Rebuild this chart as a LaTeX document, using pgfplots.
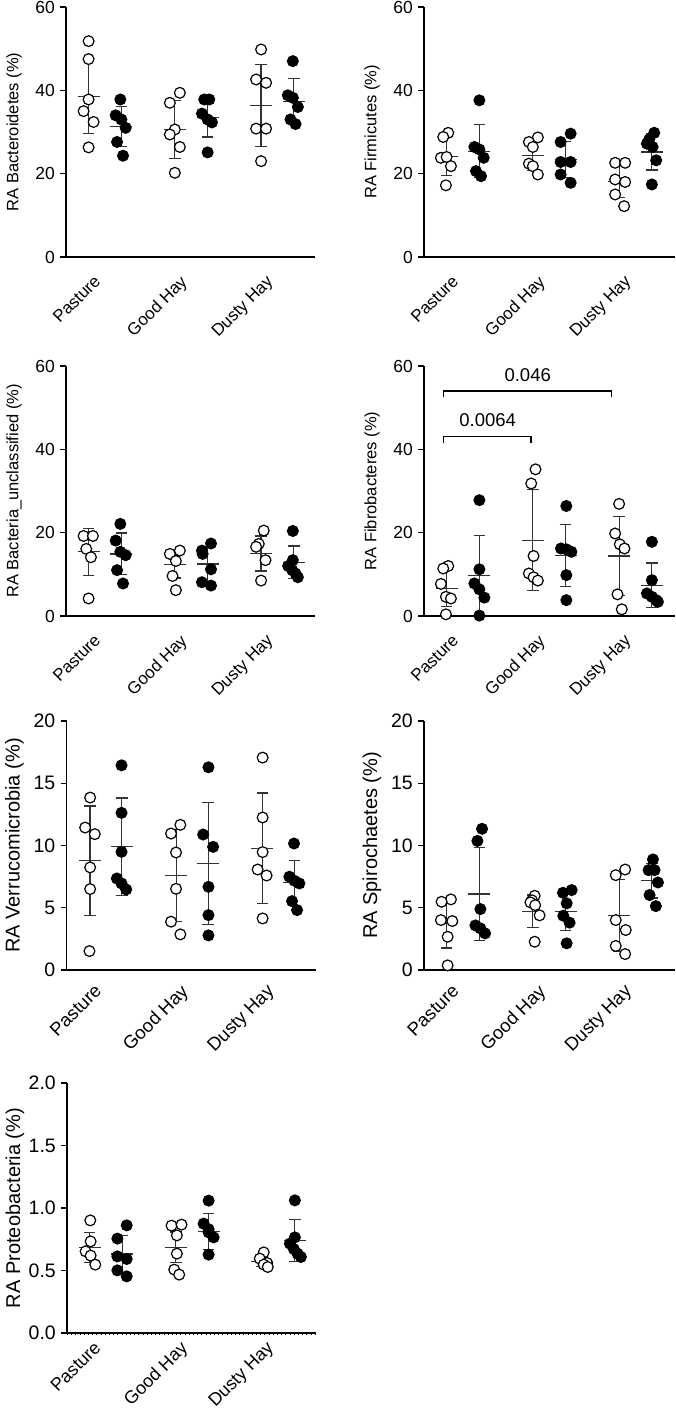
\documentclass[border=0pt]{standalone}
\usepackage{fontspec}
\setmainfont{Liberation Sans}
\usepackage{pgfplots}
\pgfplotsset{compat=1.18}
\newcommand\tickA{\fontsize{17.5}{20}\selectfont}
\newcommand\tickB{\fontsize{19.5}{22}\selectfont}
\newcommand\labA{\fontsize{16.5}{19}\selectfont}
\newcommand\labB{\fontsize{20}{23}\selectfont}
\newcommand\catA{\fontsize{17}{20}\selectfont}
\newcommand\catB{\fontsize{18.5}{21}\selectfont}
\newcommand\catC{\fontsize{18}{21}\selectfont}
\colorlet{barcol}{black!80}
\pgfplotsset{
 panel/.style={scale only axis, width=249pt, height=250pt, xmin=-0.452, xmax=2.435, ymin=0,
  axis x line=bottom, axis y line=left, axis line style={-, line width=1.2pt, black},
  xtick={0,1,2}, xticklabels={Pasture, Good Hay, Dusty Hay},
  x tick style={draw=none}, tick align=outside, major tick length=6pt,
  y tick style={line width=1.2pt, black},
  clip=false, /pgf/number format/assume math mode=true,
  yticklabel style={inner sep=0pt, xshift=-5pt},
  ylabel style={at={([xshift=-52pt]axis description cs:0,0.5)}, anchor=center, rotate=0},
 },
 right/.style={width=251pt, xmax=2.458},
 top/.style={ticklabel style={font=\tickA}, label style={font=\labA},
  xticklabel style={font=\catA, xshift=-12pt, yshift=-11pt, rotate=45, anchor=north east, inner sep=0pt}},
 bot/.style={ticklabel style={font=\tickB}, label style={font=\labB},
  xticklabel style={font=\catB, xshift=-12pt, yshift=-7pt, rotate=45, anchor=north east, inner sep=0pt}},
 bot7/.style={ticklabel style={font=\tickB}, label style={font=\labB},
  xticklabel style={font=\catC, xshift=-13pt, yshift=-1pt, rotate=45, anchor=north east, inner sep=0pt}},
 stat/.style={only marks, mark=-, mark size=11pt, color=barcol, mark options={line width=1.2pt, draw=barcol},
  error bars/.cd, y dir=both, y explicit, error bar style={line width=1.2pt, barcol},
  error mark options={rotate=90, mark size=5.8pt, line width=1.2pt, barcol}},
 open/.style={only marks, mark=*, mark size=5.4pt, mark options={fill=white, draw=black, line width=1.2pt}},
 filled/.style={only marks, mark=*, mark size=5.4pt, mark options={fill=black, draw=black, line width=1.2pt}},
}
\begin{document}
\begin{tikzpicture}
\path[use as bounding box] (0,0) rectangle (675pt,1412pt);
% Panel 1: Bacteroidetes
\begin{axis}[panel, top, at={(66pt,1155pt)}, anchor=south west, ymax=60, ytick={0,20,40,60},
  ylabel={RA Bacteroidetes (\%)}]
\addplot[stat] coordinates {(-0.19,38.5) +- (0,8.9) (0.19,31.4) +- (0,4.8) (0.81,30.6) +- (0,7.0) (1.19,33.4) +- (0,4.6) (1.81,36.3) +- (0,9.8) (2.19,37.4) +- (0,5.4)};
\addplot[open] coordinates {(-0.19,51.8) (-0.19,47.5) (-0.19,37.8) (-0.248,35.0) (-0.132,32.4) (-0.19,26.3)
 (0.868,39.4) (0.752,37.0) (0.81,30.6) (0.752,29.4) (0.868,26.4) (0.81,20.2)
 (1.81,49.8) (1.752,42.6) (1.868,41.8) (1.752,30.8) (1.868,30.8) (1.81,23.0)};
\addplot[filled] coordinates {(0.178,37.8) (0.124,34.0) (0.19,33.0) (0.24,31.0) (0.14,27.6) (0.209,24.3)
 (1.151,37.8) (1.209,37.8) (1.124,34.4) (1.19,33.0) (1.24,32.3) (1.19,25.1)
 (2.178,47.0) (2.12,38.8) (2.178,38.2) (2.236,36.0) (2.151,33.0) (2.209,31.9)};
\end{axis}
% Panel 2: Firmicutes
\begin{axis}[panel, right, top, at={(424pt,1155pt)}, anchor=south west, ymax=60, ytick={0,20,40,60},
  ylabel={RA Firmicutes (\%)}]
\addplot[stat] coordinates {(-0.19,24.2) +- (0,4.6) (0.19,25.4) +- (0,6.4) (0.81,24.4) +- (0,3.6) (1.19,23.4) +- (0,4.4) (1.81,18.2) +- (0,4.0) (2.19,25.2) +- (0,4.3)};
\addplot[open] coordinates {(-0.171,29.8) (-0.229,28.8) (-0.256,23.8) (-0.19,24.0) (-0.14,21.8) (-0.198,17.2)
 (0.868,28.7) (0.764,27.6) (0.81,26.4) (0.764,22.4) (0.81,21.8) (0.868,19.8)
 (1.764,22.6) (1.88,22.6) (1.764,18.6) (1.88,18.0) (1.764,15.0) (1.868,12.2)};
\addplot[filled] coordinates {(0.19,37.6) (0.132,26.4) (0.19,25.8) (0.24,23.8) (0.151,20.6) (0.209,19.4)
 (1.248,29.6) (1.132,27.6) (1.132,22.8) (1.248,22.8) (1.132,19.8) (1.248,17.8)
 (2.217,29.8) (2.159,28.2) (2.132,27.2) (2.198,26.4) (2.24,23.2) (2.19,17.4)};
\end{axis}
% Panel 3: Bacteria_unclassified
\begin{axis}[panel, top, at={(66pt,796pt)}, anchor=south west, ymax=60, ytick={0,20,40,60},
  ylabel={RA Bacteria\_unclassified (\%)}]
\addplot[stat] coordinates {(-0.19,15.4) +- (0,5.6) (0.19,14.9) +- (0,5.0) (0.81,12.4) +- (0,3.3) (1.19,12.5) +- (0,4.2) (1.81,15.0) +- (0,4.2) (2.19,12.9) +- (0,3.9)};
\addplot[open] coordinates {(-0.248,19.2) (-0.14,19.2) (-0.217,16.1) (-0.163,14.1) (-0.19,4.2)
 (0.752,14.9) (0.868,15.7) (0.822,13.2) (0.783,9.6) (0.822,6.2)
 (1.841,20.5) (1.783,17.3) (1.752,16.6) (1.861,13.4) (1.81,8.5)};
\addplot[filled] coordinates {(0.178,22.1) (0.124,18.1) (0.178,15.4) (0.24,14.6) (0.14,11.0) (0.209,7.8)
 (1.229,17.4) (1.124,15.7) (1.132,14.9) (1.229,11.2) (1.124,8.1) (1.229,7.3)
 (2.178,20.4) (2.178,13.4) (2.124,12.0) (2.171,11.0) (2.209,10.2) (2.236,9.3)};
\end{axis}
% Panel 4: Fibrobacteres
\begin{axis}[panel, right, top, at={(424pt,796pt)}, anchor=south west, ymax=60, ytick={0,20,40,60},
  ylabel={RA Fibrobacteres (\%)}]
\addplot[black, line width=1.2pt] coordinates {(-0.228,41.4) (-0.228,43.0) (0.788,43.0) (0.788,41.4)};
\addplot[black, line width=1.2pt] coordinates {(-0.228,52.6) (-0.228,54.0) (1.724,54.0) (1.724,52.6)};
\node[font=\fontsize{18.5}{21}\selectfont] at (axis cs:0.286,46.9) {0.0064};
\node[font=\fontsize{18.5}{21}\selectfont] at (axis cs:0.75,57.8) {0.046};
\addplot[stat] coordinates {(-0.19,6.6) +- (0,4.4) (0.19,9.7) +- (0,9.6) (0.81,18.2) +- (0,12.1) (1.19,14.5) +- (0,7.5) (1.81,14.4) +- (0,9.4) (2.19,7.4) +- (0,5.3)};
\addplot[open] coordinates {(-0.171,12.0) (-0.229,11.4) (-0.256,7.7) (-0.198,4.6) (-0.14,4.2) (-0.198,0.4)
 (0.841,35.2) (0.791,31.8) (0.818,14.4) (0.764,10.2) (0.818,9.3) (0.868,8.5)
 (1.81,26.9) (1.764,19.8) (1.818,17.2) (1.872,16.2) (1.791,5.2) (1.841,1.6)};
\addplot[filled] coordinates {(0.19,27.8) (0.19,11.2) (0.132,7.8) (0.19,6.4) (0.248,4.4) (0.19,0.1)
 (1.198,26.4) (1.136,16.2) (1.198,16.0) (1.257,15.4) (1.198,9.8) (1.198,3.8)
 (2.19,17.8) (2.19,8.6) (2.132,5.4) (2.19,4.6) (2.24,3.8) (2.26,3.4)};
\end{axis}
% Panel 5: Verrucomicrobia
\begin{axis}[panel, bot, at={(66.5pt,442pt)}, anchor=south west, height=249pt, ymax=20, ytick={0,5,10,15,20},
  ylabel={RA Verrucomicrobia (\%)}]
\addplot[stat] coordinates {(-0.18,8.77) +- (0,4.4) (0.19,9.89) +- (0,3.93) (0.82,7.59) +- (0,3.7) (1.19,8.56) +- (0,4.9) (1.82,9.79) +- (0,4.43) (2.19,7.0) +- (0,1.82)};
\addplot[open] coordinates {(-0.178,13.85) (-0.236,11.44) (-0.124,10.91) (-0.178,8.24) (-0.178,6.50) (-0.186,1.52)
 (0.868,11.66) (0.76,10.96) (0.818,9.44) (0.818,6.52) (0.76,3.88) (0.868,2.86)
 (1.822,17.06) (1.822,12.25) (1.822,9.47) (1.764,8.07) (1.868,7.59) (1.822,4.14)};
\addplot[filled] coordinates {(0.186,16.44) (0.186,12.62) (0.186,9.49) (0.132,7.35) (0.186,6.95) (0.24,6.47)
 (1.194,16.28) (1.132,10.88) (1.248,9.89) (1.194,6.68) (1.194,4.41) (1.194,2.78)
 (2.186,10.16) (2.132,7.49) (2.19,7.17) (2.248,6.95) (2.163,5.53) (2.221,4.81)};
\end{axis}
% Panel 6: Spirochaetes
\begin{axis}[panel, right, bot, at={(424pt,442pt)}, anchor=south west, height=249pt, ymax=20, ytick={0,5,10,15,20},
  ylabel={RA Spirochaetes (\%)}]
\addplot[stat] coordinates {(-0.19,3.74) +- (0,1.98) (0.19,6.10) +- (0,3.75) (0.81,4.73) +- (0,1.3) (1.19,4.73) +- (0,1.57) (1.81,4.36) +- (0,2.9) (2.19,7.17) +- (0,1.38)};
\addplot[open] coordinates {(-0.14,5.67) (-0.248,5.48) (-0.256,4.01) (-0.124,3.93) (-0.178,2.67) (-0.178,0.37)
 (0.831,5.96) (0.80,5.6) (0.782,5.43) (0.837,5.21) (0.888,4.39) (0.831,2.27)
 (1.771,7.62) (1.88,8.07) (1.771,4.01) (1.887,3.21) (1.771,1.93) (1.88,1.28)};
\addplot[filled] coordinates {(0.221,11.34) (0.167,10.37) (0.202,4.89) (0.144,3.58) (0.202,3.34) (0.256,2.94)
 (1.159,6.2) (1.26,6.42) (1.202,5.35) (1.163,4.36) (1.236,3.80) (1.202,2.14)
 (2.202,8.88) (2.151,8.02) (2.221,8.02) (2.26,7.03) (2.163,6.02) (2.236,5.13)};
\end{axis}
% Panel 7: Proteobacteria
\begin{axis}[panel, bot7, at={(67pt,79pt)}, anchor=south west, ymax=2, ytick={0,0.5,1,1.5,2},
  yticklabel style={/pgf/number format/.cd, fixed, fixed zerofill, precision=1},
  ylabel={RA Proteobacteria (\%)}]
\addplot[black, line width=2.4pt, dash pattern=on 1pt off 3.2pt, yshift=-1.2pt] coordinates {(-0.452,0) (2.435,0)};
\addplot[stat] coordinates {(-0.19,0.685) +- (0,0.122) (0.19,0.632) +- (0,0.15) (0.81,0.685) +- (0,0.123) (1.19,0.813) +- (0,0.142) (1.81,0.573) +- (0,0.04) (2.19,0.741) +- (0,0.166)};
\addplot[open] coordinates {(-0.182,0.901) (-0.178,0.733) (-0.236,0.653) (-0.178,0.619) (-0.124,0.547)
 (0.76,0.859) (0.876,0.867) (0.822,0.781) (0.822,0.635) (0.791,0.507) (0.849,0.467)
 (1.829,0.645) (1.783,0.595) (1.868,0.56) (1.829,0.547) (1.876,0.528)};
\addplot[filled] coordinates {(0.24,0.861) (0.132,0.755) (0.132,0.613) (0.24,0.592) (0.132,0.501) (0.24,0.453)
 (1.19,1.059) (1.132,0.875) (1.19,0.83) (1.19,0.805) (1.248,0.765) (1.19,0.627)
 (2.19,1.061) (2.19,0.765) (2.132,0.715) (2.178,0.672) (2.221,0.635) (2.26,0.608)};
\end{axis}
\end{tikzpicture}
\end{document}
